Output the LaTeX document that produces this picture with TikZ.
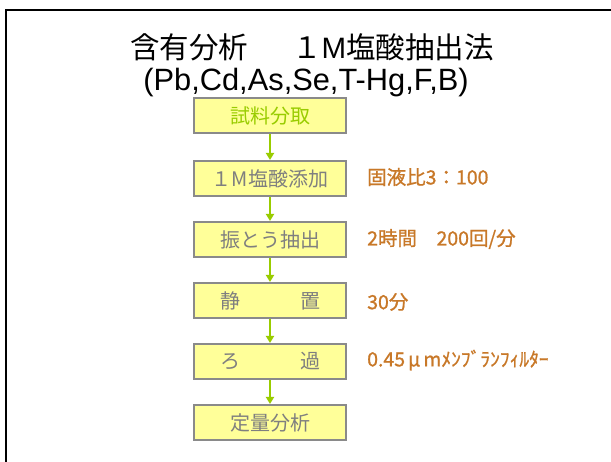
\documentclass[tikz,border=0pt]{standalone}
\usepackage{fontspec}
\setmainfont{Liberation Sans}
\newfontfamily\cjk{Noto Sans CJK JP}
\newfontfamily\cjkb[FakeBold=1.0]{Noto Sans CJK JP}
\usetikzlibrary{arrows.meta}
\definecolor{boxfill}{HTML}{FFFF99}
\definecolor{boxline}{HTML}{8A8A8A}
\definecolor{arrgreen}{HTML}{99CC00}
\definecolor{labelor}{RGB}{200,120,40}
\definecolor{txtgray}{HTML}{7F7F7F}
\tikzset{
  stepbox/.style={draw=boxline, fill=boxfill, line width=2pt, minimum width=152pt, minimum height=35pt, inner sep=0pt, font=\cjk\fontsize{20}{22}\selectfont, text=txtgray},
  flowarrow/.style={draw=arrgreen, line width=2pt, -{Triangle[width=8pt,length=7pt]}},
  sidelabel/.style={anchor=west, inner sep=0pt, text=labelor, font=\cjkb\fontsize{19.5}{22}\selectfont},
  titletext/.style={inner sep=0pt, font=\fontsize{29.5}{34}\selectfont, text=black}
}
\begin{document}
\begin{tikzpicture}[x=1pt,y=-1pt]
\useasboundingbox (0,0) rectangle (611,462);
\fill[white] (0,0) rectangle (611,462);
\coordinate (fbl) at (6,462);
\coordinate (ftl) at (6,10);
\coordinate (ftr) at (611,10);
\draw[black, line width=2.2pt] (fbl) -- (ftl) -- (ftr);
\node[titletext] (t1) at (312,47) {{\cjk 含有分析}\hspace{44pt}{\cjk １}M{\cjk 塩酸抽出法}};
\node[titletext, font=\fontsize{30.8}{34}\selectfont] (t2) at (306,83) {(Pb,Cd,As,Se,T-Hg,F,B)};
\node[stepbox, text=arrgreen] (s1) at (270,116) {試料分取};
\node[stepbox] (s2) at (270,178.5) {１M塩酸添加};
\node[stepbox] (s3) at (270,239.5) {振とう抽出};
\node[stepbox] (s4) at (270,300.5) {静　　　置};
\node[stepbox] (s5) at (270,361.5) {ろ　　　過};
\node[stepbox] (s6) at (270,422.5) {定量分析};
\draw[flowarrow] (s1) -- (s2);
\draw[flowarrow] (s2) -- (s3);
\draw[flowarrow] (s3) -- (s4);
\draw[flowarrow] (s4) -- (s5);
\draw[flowarrow] (s5) -- (s6);
\node[sidelabel] (l2) at (367,177) {固液比3：100};
\node[sidelabel] (l3) at (367,239) {2時間　200回/分};
\node[sidelabel] (l4) at (367,302) {30分};
\node[sidelabel] (l5) at (367,360) {0.45\hspace{3pt}μ\hspace{3pt}mﾒﾝﾌﾞﾗﾝﾌｨﾙﾀｰ};
\end{tikzpicture}
\end{document}
